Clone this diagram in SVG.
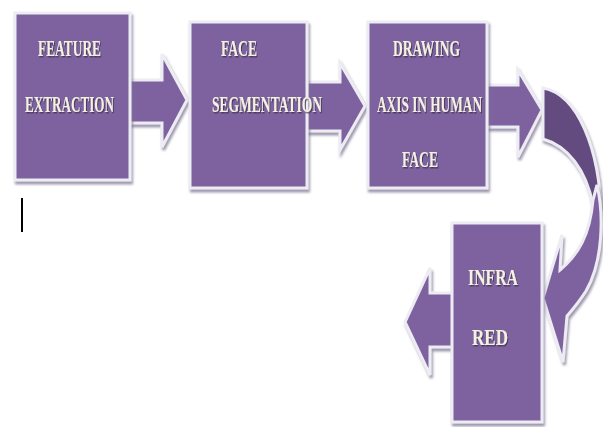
<svg xmlns="http://www.w3.org/2000/svg" width="603" height="427" viewBox="0 0 603 427">
<defs>
<filter id="sh" x="-10%" y="-10%" width="130%" height="130%">
<feDropShadow dx="1.5" dy="3" stdDeviation="1.2" flood-color="#7a7090" flood-opacity="0.7"/>
</filter>
<filter id="ts" x="-5%" y="-20%" width="110%" height="140%">
<feDropShadow dx="1" dy="1" stdDeviation="0.4" flood-color="#3a2d4e" flood-opacity="0.8"/>
</filter>
<style>
.sh{fill:#7e62a0;stroke:#ececf2;stroke-width:3;stroke-linejoin:miter;filter:url(#sh)}
.dk{fill:#634c80;stroke:#ececf2;stroke-width:3;filter:url(#sh)}
.t{font-family:"Liberation Serif","Times New Roman",serif;font-weight:bold;font-size:16.5px;fill:#f4f1e2;filter:url(#ts)}
</style>
</defs>
<rect width="603" height="427" fill="#ffffff"/>
<g id="connectors">
<path class="sh" d="M128,80 L162,80 L162,54 L187,100 L162,147 L162,123 L128,123 Z"/>
<path class="sh" d="M305,82 L340,82 L340,63 L365,106 L340,150 L340,131 L305,131 Z"/>
<path class="sh" d="M485,85 L518,85 L518,70 L542,110 L518,157 L518,127 L485,127 Z"/>
<path class="sh" d="M454,293 L430,293 L430,268 L405,322 L430,375 L430,347 L454,347 Z"/>
<path id="curve-back" class="dk" d="M543,88 C578,94 600,150 601,215 L593,205 C586,170 568,146 543,139 Z"/>
<path id="curve-front" class="sh" d="M597,185 C604,215 603,262 586,291 C579,302 573,309 567,316 L563,362 L543,298 L562,235 L560,270 C578,255 590,235 593,200 Z"/>
</g>
<g id="n1"><rect class="sh" x="15" y="13" width="115" height="167"/>
<text class="t" transform="translate(38,56) scale(1,1.45)" textLength="63" lengthAdjust="spacingAndGlyphs">FEATURE</text>
<text class="t" transform="translate(25,112) scale(1,1.45)" textLength="89" lengthAdjust="spacingAndGlyphs">EXTRACTION</text></g>
<g id="n2"><rect class="sh" x="190" y="22" width="117" height="166"/>
<text class="t" transform="translate(221,56) scale(1,1.45)" textLength="36" lengthAdjust="spacingAndGlyphs">FACE</text>
<text class="t" transform="translate(212,112) scale(1,1.45)" textLength="110" lengthAdjust="spacingAndGlyphs">SEGMENTATION</text></g>
<g id="n3"><rect class="sh" x="368" y="22" width="119" height="166"/>
<text class="t" transform="translate(393,56) scale(1,1.45)" textLength="67" lengthAdjust="spacingAndGlyphs">DRAWING</text>
<text class="t" transform="translate(377,112) scale(1,1.45)" textLength="105" lengthAdjust="spacingAndGlyphs">AXIS IN HUMAN</text>
<text class="t" transform="translate(402,167) scale(1,1.45)" textLength="36" lengthAdjust="spacingAndGlyphs">FACE</text></g>
<g id="n4"><rect class="sh" x="452" y="223" width="90" height="199"/>
<text class="t" transform="translate(468,285) scale(1,1.45)" textLength="50" lengthAdjust="spacingAndGlyphs">INFRA</text>
<text class="t" transform="translate(472,345) scale(1,1.45)" textLength="36" lengthAdjust="spacingAndGlyphs">RED</text></g>
<line x1="22" y1="198" x2="22" y2="232" stroke="#000000" stroke-width="2"/>
</svg>
